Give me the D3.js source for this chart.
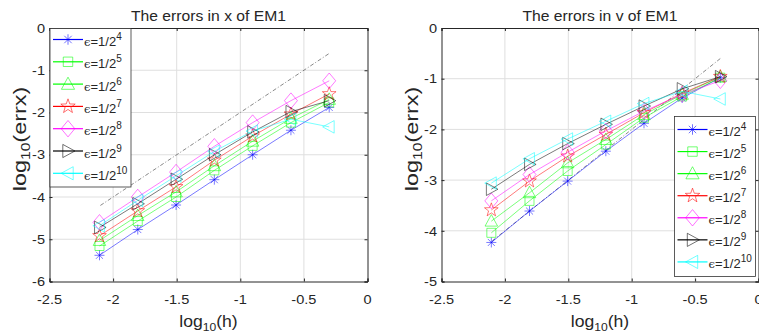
<!DOCTYPE html>
<html><head><meta charset="utf-8">
<script src="https://cdn.jsdelivr.net/npm/d3@7/dist/d3.min.js"></script>
<style>
html,body{margin:0;padding:0;background:#fff;}
svg{display:block;}
text{font-family:"Liberation Sans",Arial,sans-serif;fill:#262626;}
</style></head>
<body>
<svg id="chart" width="759" height="336"></svg>
<script>
// ---------- data ----------
const logH = [-2.107, -1.806, -1.505, -1.204, -0.903, -0.602, -0.301];
const epsExp = [4, 5, 6, 7, 8, 9, 10];
const xTicks = [-2.5, -2, -1.5, -1, -0.5, 0];
const yTicksX = [0, -1, -2, -3, -4, -5, -6];
const yTicksV = [0, -1, -2, -3, -4, -5];
const refX = [-2.1, -0.3];
const refY = [-4.2, -0.6];

// errors in x (log10)
const errx4  = [-5.38, -4.77, -4.19, -3.59, -3.00, -2.42, -1.88];
const errx5  = [-5.16, -4.57, -4.00, -3.37, -2.79, -2.24, -1.76];
const errx6  = [-5.03, -4.44, -3.88, -3.26, -2.68, -2.14, -1.69];
const errx7  = [-4.92, -4.33, -3.76, -3.13, -2.56, -2.04, -1.56];
const errx8  = [-4.60, -4.00, -3.41, -2.80, -2.24, -1.72, -1.25];
const errx9  = [-4.72, -4.16, -3.58, -3.00, -2.46, -1.98, -1.72];
const errx10 = [-4.68, -4.08, -3.50, -2.92, -2.44, -2.16, -2.34];
// errors in v (log10)
const errv4  = [-4.23, -3.61, -3.02, -2.43, -1.88, -1.38, -0.98];
const errv5  = [-4.04, -3.41, -2.82, -2.30, -1.77, -1.35, -0.98];
const errv6  = [-3.81, -3.25, -2.66, -2.20, -1.71, -1.31, -0.96];
const errv7  = [-3.59, -3.02, -2.53, -2.10, -1.67, -1.29, -0.96];
const errv8  = [-3.41, -2.89, -2.45, -2.03, -1.64, -1.31, -1.04];
const errv9  = [-3.18, -2.69, -2.28, -1.90, -1.54, -1.20, -0.96];
const errv10 = [-3.06, -2.58, -2.19, -1.84, -1.49, -1.25, -1.40];

const colors = ["#0000ff", "#00ff00", "#00ff00", "#ff0000", "#ff00ff", "#000000", "#00ffff"];
const markers = ["asterisk", "square", "triUp", "star", "diamond", "triRight", "triLeft"];

const errxAll = [errx4, errx5, errx6, errx7, errx8, errx9, errx10];
const errvAll = [errv4, errv5, errv6, errv7, errv8, errv9, errv10];

// ---------- drawing ----------
const svg = d3.select("#chart");

function markerPath(type, s) {
  const p = d3.path();
  if (type === "asterisk") {
    const r = s * 0.5;
    p.moveTo(-r, 0); p.lineTo(r, 0);
    p.moveTo(0, -r); p.lineTo(0, r);
    const d = r * 0.707;
    p.moveTo(-d, -d); p.lineTo(d, d);
    p.moveTo(-d, d); p.lineTo(d, -d);
  } else if (type === "square") {
    const r = s * 0.5;
    p.rect(-r, -r, 2 * r, 2 * r);
  } else if (type === "triUp" || type === "triRight" || type === "triLeft") {
    const r = s * 0.55;
    let pts = [[0, -r], [r * 0.95, r * 0.75], [-r * 0.95, r * 0.75]];
    if (type === "triRight") pts = pts.map(([x, y]) => [-y, x]);
    if (type === "triLeft") pts = pts.map(([x, y]) => [y, -x]);
    p.moveTo(pts[0][0], pts[0][1]); p.lineTo(pts[1][0], pts[1][1]); p.lineTo(pts[2][0], pts[2][1]); p.closePath();
  } else if (type === "star") {
    const R = s * 0.6, r = R * 0.4;
    for (let i = 0; i < 10; i++) {
      const a = -Math.PI / 2 + i * Math.PI / 5;
      const rr = i % 2 === 0 ? R : r;
      const x = rr * Math.cos(a), y = rr * Math.sin(a);
      if (i === 0) p.moveTo(x, y); else p.lineTo(x, y);
    }
    p.closePath();
  } else if (type === "diamond") {
    const rx = s * 0.5, ry = s * 0.6;
    p.moveTo(0, -ry); p.lineTo(rx, 0); p.lineTo(0, ry); p.lineTo(-rx, 0); p.closePath();
  }
  return p.toString();
}
const markerSize = {asterisk: 10, square: 9, triUp: 12, star: 12, diamond: 13, triRight: 12, triLeft: 12};

function stext(g, x, y, str, opts) {
  const t = g.append("text")
    .attr("transform", `translate(${x},${y}) scale(${opts.sx || 1},1)`)
    .attr("font-size", opts.size)
    .attr("text-anchor", opts.anchor || "start");
  return t.text(str);
}

function drawPanel(cfg) {
  const g = svg.append("g");
  const x = d3.scaleLinear().domain([-2.5, 0]).range([cfg.x0, cfg.x1]);
  const y = d3.scaleLinear().domain(cfg.yDomain).range([cfg.y1, cfg.y0]);

  // grid
  g.append("g").selectAll("line").data(xTicks.slice(1, -1)).join("line")
    .attr("x1", d => x(d)).attr("x2", d => x(d)).attr("y1", cfg.y0).attr("y2", cfg.y1)
    .attr("stroke", "#dfdfdf").attr("stroke-width", 1);
  g.append("g").selectAll("line").data(cfg.yTicks.slice(1, -1)).join("line")
    .attr("y1", d => y(d)).attr("y2", d => y(d)).attr("x1", cfg.x0).attr("x2", cfg.x1)
    .attr("stroke", "#dfdfdf").attr("stroke-width", 1);

  // axes with inward ticks (box on)
  const axB = d3.axisBottom(x).tickValues(xTicks).tickSize(-3).tickFormat("");
  const axT = d3.axisTop(x).tickValues(xTicks).tickSize(-3).tickFormat("");
  const axL = d3.axisLeft(y).tickValues(cfg.yTicks).tickSize(-3).tickFormat("");
  const axR = d3.axisRight(y).tickValues(cfg.yTicks).tickSize(-3).tickFormat("");
  [[axB, `translate(0,${cfg.y1})`], [axT, `translate(0,${cfg.y0})`],
   [axL, `translate(${cfg.x0},0)`], [axR, `translate(${cfg.x1},0)`]].forEach(([ax, tr]) => {
    const a = g.append("g").attr("transform", tr).call(ax);
    a.selectAll("path,line").attr("stroke", "#262626").attr("stroke-width", 1);
  });

  // tick labels (plain hyphen minus as in the reference)
  const tl = g.append("g");
  xTicks.forEach(v => stext(tl, x(v), cfg.y1 + 22.5, String(v), {size: 13, anchor: "middle", sx: 1.12}));
  cfg.yTicks.forEach(v => stext(tl, cfg.x0 - 4.5, y(v) + 4.7, String(v), {size: 13, anchor: "end", sx: 1.12}));

  // reference dash-dot line
  const line = d3.line().x(d => x(d[0])).y(d => y(d[1]));
  g.append("path").datum(refX.map((v, i) => [v, refY[i]]))
    .attr("d", line).attr("fill", "none").attr("stroke", "#555").attr("stroke-width", 0.7)
    .attr("stroke-dasharray", "4,2,1,2");

  // series
  cfg.data.forEach((arr, k) => {
    const pts = logH.map((h, i) => [h, arr[i]]);
    g.append("path").datum(pts).attr("d", line).attr("fill", "none")
      .attr("stroke", colors[k]).attr("stroke-width", 0.7).attr("stroke-opacity", 0.75);
    g.append("g").selectAll("path").data(pts).join("path")
      .attr("transform", d => `translate(${x(d[0])},${y(d[1])})`)
      .attr("d", markerPath(markers[k], markerSize[markers[k]]))
      .attr("fill", "none").attr("stroke", colors[k]).attr("stroke-width", 0.7).attr("stroke-opacity", 0.75);
  });

  // title
  stext(g, (cfg.x0 + cfg.x1) / 2, 20.5, cfg.title, {size: 14, anchor: "middle", sx: 1.12});
  // x label
  const xl = g.append("text").attr("transform", `translate(${(cfg.x0 + cfg.x1) / 2},327) scale(1.1,1)`)
    .attr("text-anchor", "middle").attr("font-size", 16);
  xl.append("tspan").text("log");
  xl.append("tspan").attr("font-size", 11).attr("dy", 4).text("10");
  xl.append("tspan").attr("dy", -4).text("(h)");
  // y label
  const yl = g.append("text").attr("transform", `translate(${cfg.x0 - 24},${139}) rotate(-90) scale(1.3,1)`)
    .attr("text-anchor", "middle").attr("font-size", 18);
  yl.append("tspan").text("log");
  yl.append("tspan").attr("font-size", 12).attr("dy", 4).text("10");
  yl.append("tspan").attr("dy", -4).text("(errx)");

  // legend
  const L = cfg.legend;
  const lg = g.append("g");
  lg.append("rect").attr("x", L.x).attr("y", L.y).attr("width", L.w).attr("height", L.h)
    .attr("fill", "#fff").attr("stroke", "#333").attr("stroke-width", 0.8);
  epsExp.forEach((e, k) => {
    const cy = L.first + k * L.step;
    lg.append("line").attr("x1", L.x + 3).attr("x2", L.x + 33).attr("y1", cy).attr("y2", cy)
      .attr("stroke", colors[k]).attr("stroke-width", 1.2);
    lg.append("path").attr("transform", `translate(${L.x + 18},${cy})`)
      .attr("d", markerPath(markers[k], markerSize[markers[k]] * 1.05))
      .attr("fill", "none").attr("stroke", colors[k]).attr("stroke-width", 0.7).attr("stroke-opacity", 0.8);
    const t = lg.append("text").attr("x", L.x + 34).attr("y", cy + 6.5).attr("font-size", 13);
    t.append("tspan").attr("font-family", '"DejaVu Serif",serif').attr("font-size", 11.5).text("ϵ");
    t.append("tspan").text("=1/2");
    t.append("tspan").attr("font-size", 10).attr("dy", -6).text(e);
  });
}

drawPanel({
  x0: 49.5, x1: 367.5, y0: 28, y1: 281.5, yDomain: [-6, 0], yTicks: yTicksX,
  data: errxAll, title: "The errors in x of EM1",
  legend: {x: 50, y: 28.5, w: 81, h: 158.5, first: 39.5, step: 22.3}
});
drawPanel({
  x0: 441.5, x1: 758.5, y0: 28, y1: 281.5, yDomain: [-5, 0], yTicks: yTicksV,
  data: errvAll, title: "The errors in v of EM1",
  legend: {x: 674.5, y: 116.5, w: 81, h: 160, first: 129.5, step: 22.07}
});
</script>
</body></html>
